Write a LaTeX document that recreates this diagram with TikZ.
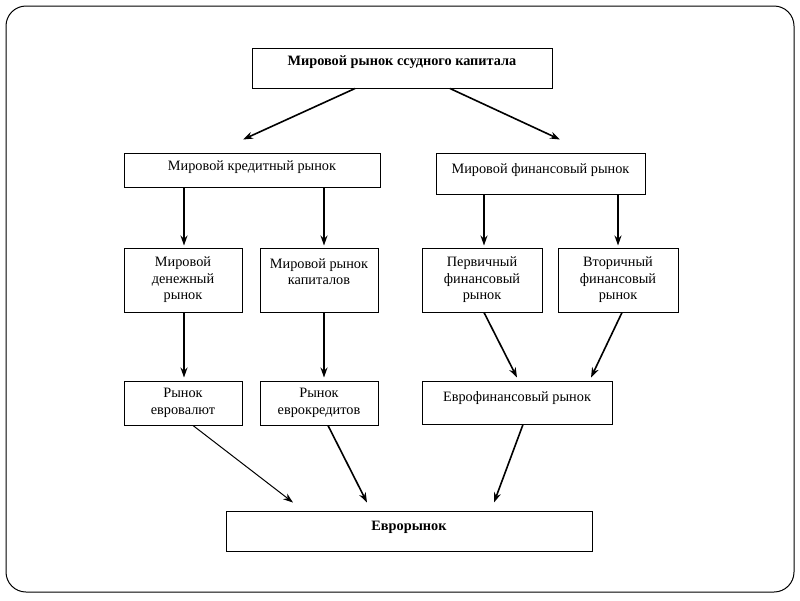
\documentclass[tikz,border=0pt]{standalone}
\usepackage{fontspec}
\setmainfont{Liberation Serif}
\usetikzlibrary{arrows.meta}

\begin{document}
\begin{tikzpicture}[x=1pt,y=-1pt,
  box/.style n args={2}{draw,line width=1pt,minimum width=#1pt,minimum height=#2pt,inner sep=1pt,align=center,font=\fontsize{14.3}{16.5}\selectfont},
  arr/.style={line width=1.6pt,-{Stealth[length=10pt,width=7pt]}}]
\useasboundingbox (0,0) rectangle (800,600);
\draw[line width=1pt,rounded corners=20pt] (6,6) rectangle (794,592);
% levels
\node[box={300}{40},font=\fontsize{14.3}{16.5}\selectfont\bfseries] (top) at (402,68) {Мировой рынок ссудного капитала\\[-2.5pt]};
\node[box={256}{34}] (credit) at (252,170) {Мировой кредитный рынок\\[-8.5pt]};
\node[box={209}{41}] (fin) at (540.5,173.5) {Мировой финансовый рынок\\[-7.5pt]};
\node[box={118}{64}] (money) at (183,280) {Мировой\\денежный\\рынок};
\node[box={118}{64}] (capital) at (319,280) {Мировой рынок\\капиталов\\\mbox{}};
\node[box={120}{64}] (primary) at (482,280) {Первичный\\финансовый\\рынок};
\node[box={120}{64}] (secondary) at (618,280) {Вторичный\\финансовый\\рынок};
\node[box={118}{44}] (eurocur) at (183,403) {Рынок\\евровалют};
\node[box={118}{44}] (eurocred) at (319,403) {Рынок\\еврокредитов};
\node[box={190}{43}] (eurofin) at (517,402.5) {Еврофинансовый рынок\\[-4.5pt]};
\node[box={366}{40},font=\fontsize{14.3}{16.5}\selectfont\bfseries] (euro) at (409,531) {Еврорынок\\[-6.5pt]};
% arrows
\foreach \a/\ax/\b/\bx/\g in {top/-47/credit/-9/13,top/48/fin/19.5/13,
  credit/-68/money/1/2,credit/72/capital/5/2,fin/-56.5/primary/2/2,fin/77.5/secondary/0/2,
  money/1/eurocur/1/3,capital/5/eurocred/5/3,primary/2/eurofin/0/3,secondary/4/eurofin/74/3,
  eurocred/9/euro/-42/8,eurofin/6/euro/85/8} {
  \draw[arr] ([xshift=\ax]\a.south) -- ([xshift=\bx,yshift=\g]\b.north);
}
\draw[arr,line width=1pt] ([xshift=10]eurocur.south) -- ([xshift=-116,yshift=8]euro.north);
\end{tikzpicture}
\end{document}
